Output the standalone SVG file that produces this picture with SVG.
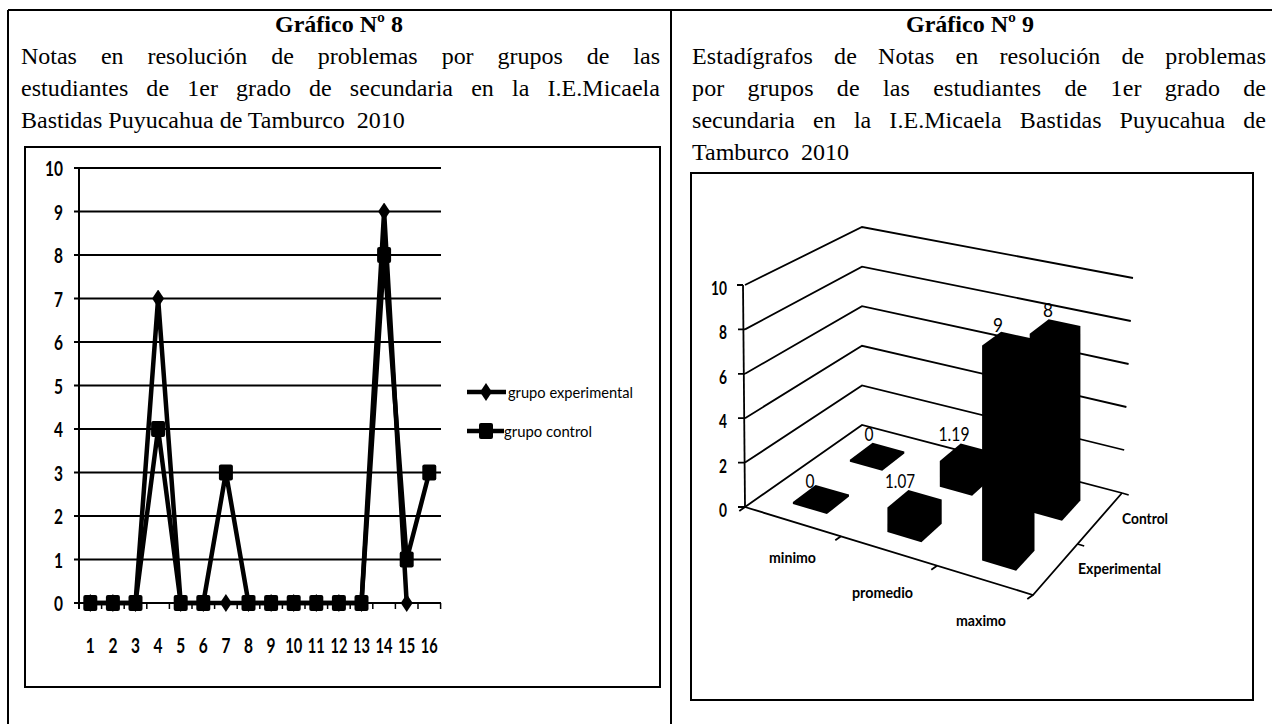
<svg xmlns="http://www.w3.org/2000/svg" width="1272" height="724" viewBox="0 0 1272 724">
<style>
.frame{fill:none;stroke:#000;stroke-width:2}
.title{font-family:"Liberation Serif",serif;font-size:24px;font-weight:bold;fill:#000}
.body{font-family:"Liberation Serif",serif;font-size:24px;fill:#000}
.grid{fill:none;stroke:#000;stroke-width:2}
.ser{fill:none;stroke:#000;stroke-width:4.5;stroke-linejoin:miter}
.ylab{font-family:Lato,"Liberation Sans",sans-serif;font-size:21px;font-weight:bold;text-anchor:end;fill:#000}
.xlab{font-family:Lato,"Liberation Sans",sans-serif;font-size:21px;font-weight:bold;text-anchor:middle;fill:#000}
.leg{font-family:Lato,"Liberation Sans",sans-serif;font-size:16px;fill:#000}
.g3{fill:none;stroke:#000;stroke-width:1.8}
.bar{fill:#000}
.rlab{font-family:Lato,"Liberation Sans",sans-serif;font-size:19px;font-weight:bold;text-anchor:end;fill:#000}
.clab{font-family:Lato,"Liberation Sans",sans-serif;font-size:16px;font-weight:bold;fill:#000}
.vlab{font-family:Lato,"Liberation Sans",sans-serif;font-size:20px;text-anchor:middle;fill:#000}
</style>
<defs>
<marker id="dia" markerUnits="userSpaceOnUse" markerWidth="14" markerHeight="18" refX="7" refY="9" viewBox="0 0 14 18"><polygon points="7,0 13,9 7,18 1,9" fill="#000"/></marker>
<marker id="sq" markerUnits="userSpaceOnUse" markerWidth="16" markerHeight="18" refX="8" refY="9" viewBox="0 0 16 18"><rect x="1" y="1" width="14" height="16" rx="2" fill="#000"/></marker>
</defs>
<rect width="1272" height="724" fill="#fff"/>
<g id="page-frame" class="frame">
<line x1="8" y1="10" x2="1272" y2="10"/>
<line x1="8" y1="10" x2="8" y2="724"/>
<line x1="671" y1="10" x2="671" y2="724"/>
</g>
<g id="left-heading">
<text class="title" x="339" y="32" text-anchor="middle">Gráfico Nº 8</text>
<text class="body" x="21" y="64" textLength="639" lengthAdjust="spacing" style="word-spacing:18px">Notas en resolución de problemas por grupos de las</text>
<text class="body" x="21" y="96" textLength="639" lengthAdjust="spacing" style="word-spacing:12px">estudiantes de 1er grado de secundaria en la I.E.Micaela</text>
<text class="body" x="21" y="128" xml:space="preserve">Bastidas Puyucahua de Tamburco  2010</text>
</g>
<g id="right-heading">
<text class="title" x="970" y="32" text-anchor="middle">Gráfico Nº 9</text>
<text class="body" x="692" y="64" textLength="574" lengthAdjust="spacing" style="word-spacing:15px">Estadígrafos de Notas en resolución de problemas</text>
<text class="body" x="692" y="96" textLength="574" lengthAdjust="spacing" style="word-spacing:17px">por grupos de las estudiantes de 1er grado de</text>
<text class="body" x="692" y="128" textLength="574" lengthAdjust="spacing" style="word-spacing:12px">secundaria en la I.E.Micaela Bastidas Puyucahua de</text>
<text class="body" x="692" y="160" xml:space="preserve">Tamburco  2010</text>
</g>
<g id="chart8">
<rect class="frame" x="25" y="147" width="635" height="540"/>
<g class="grid">
<line x1="74" y1="168" x2="441" y2="168"/>
<line x1="74" y1="211.5" x2="441" y2="211.5"/>
<line x1="74" y1="255" x2="441" y2="255"/>
<line x1="74" y1="298.5" x2="441" y2="298.5"/>
<line x1="74" y1="342" x2="441" y2="342"/>
<line x1="74" y1="385.5" x2="441" y2="385.5"/>
<line x1="74" y1="429" x2="441" y2="429"/>
<line x1="74" y1="472.5" x2="441" y2="472.5"/>
<line x1="74" y1="516" x2="441" y2="516"/>
<line x1="74" y1="559.5" x2="441" y2="559.5"/>
<line x1="74" y1="603" x2="441" y2="603"/>
<line x1="79" y1="168" x2="79" y2="609"/>
<path d="M101.6 603v6M124.2 603v6M146.8 603v6M169.4 603v6M192 603v6M214.6 603v6M237.2 603v6M259.8 603v6M282.4 603v6M305 603v6M327.6 603v6M350.2 603v6M372.8 603v6M395.4 603v6M418 603v6M440.6 603v6" stroke-width="1.5"/>
</g>
<g id="y-labels">
<text class="ylab" x="63" y="176" textLength="18" lengthAdjust="spacingAndGlyphs">10</text>
<text class="ylab" x="63" y="219.5" textLength="9" lengthAdjust="spacingAndGlyphs">9</text>
<text class="ylab" x="63" y="263" textLength="9" lengthAdjust="spacingAndGlyphs">8</text>
<text class="ylab" x="63" y="306.5" textLength="9" lengthAdjust="spacingAndGlyphs">7</text>
<text class="ylab" x="63" y="350" textLength="9" lengthAdjust="spacingAndGlyphs">6</text>
<text class="ylab" x="63" y="393.5" textLength="9" lengthAdjust="spacingAndGlyphs">5</text>
<text class="ylab" x="63" y="437" textLength="9" lengthAdjust="spacingAndGlyphs">4</text>
<text class="ylab" x="63" y="480.5" textLength="9" lengthAdjust="spacingAndGlyphs">3</text>
<text class="ylab" x="63" y="524" textLength="9" lengthAdjust="spacingAndGlyphs">2</text>
<text class="ylab" x="63" y="567.5" textLength="9" lengthAdjust="spacingAndGlyphs">1</text>
<text class="ylab" x="63" y="611" textLength="9" lengthAdjust="spacingAndGlyphs">0</text>
</g>
<g id="x-labels">
<text class="xlab" x="90.3" y="653" textLength="9" lengthAdjust="spacingAndGlyphs">1</text>
<text class="xlab" x="112.9" y="653" textLength="9" lengthAdjust="spacingAndGlyphs">2</text>
<text class="xlab" x="135.5" y="653" textLength="9" lengthAdjust="spacingAndGlyphs">3</text>
<text class="xlab" x="158.1" y="653" textLength="9" lengthAdjust="spacingAndGlyphs">4</text>
<text class="xlab" x="180.7" y="653" textLength="9" lengthAdjust="spacingAndGlyphs">5</text>
<text class="xlab" x="203.3" y="653" textLength="9" lengthAdjust="spacingAndGlyphs">6</text>
<text class="xlab" x="225.9" y="653" textLength="9" lengthAdjust="spacingAndGlyphs">7</text>
<text class="xlab" x="248.5" y="653" textLength="9" lengthAdjust="spacingAndGlyphs">8</text>
<text class="xlab" x="271.1" y="653" textLength="9" lengthAdjust="spacingAndGlyphs">9</text>
<text class="xlab" x="293.7" y="653" textLength="17" lengthAdjust="spacingAndGlyphs">10</text>
<text class="xlab" x="316.3" y="653" textLength="17" lengthAdjust="spacingAndGlyphs">11</text>
<text class="xlab" x="338.9" y="653" textLength="17" lengthAdjust="spacingAndGlyphs">12</text>
<text class="xlab" x="361.5" y="653" textLength="17" lengthAdjust="spacingAndGlyphs">13</text>
<text class="xlab" x="384.1" y="653" textLength="17" lengthAdjust="spacingAndGlyphs">14</text>
<text class="xlab" x="406.7" y="653" textLength="17" lengthAdjust="spacingAndGlyphs">15</text>
<text class="xlab" x="429.3" y="653" textLength="17" lengthAdjust="spacingAndGlyphs">16</text>
</g>
<polyline id="serie-experimental" class="ser" marker-start="url(#dia)" marker-mid="url(#dia)" marker-end="url(#dia)" points="90.3,603 112.9,603 135.5,603 158.1,298.5 180.7,603 203.3,603 225.9,603 248.5,603 271.1,603 293.7,603 316.3,603 338.9,603 361.5,603 384.1,211.5 406.7,603"/>
<polyline id="serie-control" class="ser" marker-start="url(#sq)" marker-mid="url(#sq)" marker-end="url(#sq)" points="90.3,603 112.9,603 135.5,603 158.1,429 180.7,603 203.3,603 225.9,472.5 248.5,603 271.1,603 293.7,603 316.3,603 338.9,603 361.5,603 384.1,255 406.7,559.5 429.3,472.5"/>
<g id="legend8">
<polyline class="ser" marker-mid="url(#dia)" points="467,392 486,392 506,392"/>
<text class="leg" x="508" y="398" textLength="125" lengthAdjust="spacingAndGlyphs">grupo experimental</text>
<polyline class="ser" marker-mid="url(#sq)" points="467,431 486,431 504,431"/>
<text class="leg" x="504" y="437" textLength="88" lengthAdjust="spacingAndGlyphs">grupo control</text>
</g>
</g>
<g id="chart9">
<rect class="frame" x="691" y="173" width="562" height="527"/>
<g id="walls" class="g3">
<polyline points="745,507 862,425 1122,493"/>
<polyline points="745,462.6 862,385.4 1124.2,450"/>
<polyline points="745,418.2 862,345.8 1126.4,407"/>
<polyline points="745,373.8 862,306.2 1128.6,364"/>
<polyline points="745,329.4 862,266.6 1130.8,321"/>
<polyline points="745,285 862,227 1133,278"/>
<line x1="743" y1="285" x2="745" y2="507"/>
<path d="M737 285h6M738 329.4h7M738 373.8h7M738 418.2h7M738 462.6h7M738 507h7"/>
<polyline points="745,507 1033,595 1122,493"/>
<path d="M745 507l-5.7 4M841 536.3l-5.7 4M937 565.7l-5.7 4M1033 595l-5.7 4M1077.5 544l6.7 2M1122 493l6.7 2"/>
</g>
<g id="axis-labels9">
<text class="rlab" x="727" y="295" textLength="16" lengthAdjust="spacingAndGlyphs">10</text>
<text class="rlab" x="727" y="339.4" textLength="8" lengthAdjust="spacingAndGlyphs">8</text>
<text class="rlab" x="727" y="383.8" textLength="8" lengthAdjust="spacingAndGlyphs">6</text>
<text class="rlab" x="727" y="428.2" textLength="8" lengthAdjust="spacingAndGlyphs">4</text>
<text class="rlab" x="727" y="472.6" textLength="8" lengthAdjust="spacingAndGlyphs">2</text>
<text class="rlab" x="727" y="517" textLength="8" lengthAdjust="spacingAndGlyphs">0</text>
<text class="clab" x="769" y="563" textLength="47" lengthAdjust="spacingAndGlyphs">minimo</text>
<text class="clab" x="852" y="598" textLength="61" lengthAdjust="spacingAndGlyphs">promedio</text>
<text class="clab" x="956" y="626" textLength="50" lengthAdjust="spacingAndGlyphs">maximo</text>
<text class="clab" x="1122" y="524" textLength="46" lengthAdjust="spacingAndGlyphs">Control</text>
<text class="clab" x="1078" y="574" textLength="83" lengthAdjust="spacingAndGlyphs">Experimental</text>
</g>
<g id="bars">
<polygon id="bar-control-minimo" class="bar" points="849.9,459.7 872.6,442.8 904.3,451.4 904.3,453.4 882.2,470.7 849.9,461.7"/>
<polygon id="bar-control-promedio" class="bar" points="939.8,461 960.7,443.6 992.5,452 992.5,477.2 972.1,495.7 939.8,486.7"/>
<polygon id="bar-control-maximo" class="bar" points="1029.7,333.7 1048.7,319.3 1080.4,326 1080.4,500.6 1062,520.7 1029.7,511.7"/>
<polygon id="bar-exp-minimo" class="bar" points="792.9,501.9 815.6,485 849,494.6 849,496.6 826.9,514.1 792.9,503.9"/>
<polygon id="bar-exp-promedio" class="bar" points="887.4,507.4 908.4,489.9 941.7,499.4 941.7,523.7 921.4,542.3 887.4,532"/>
<polygon id="bar-exp-maximo" class="bar" points="982.1,345.5 1001.1,331.8 1034.5,339.1 1034.5,550.8 1016.1,570.7 982.1,560.4"/>
</g>
<g id="value-labels">
<text class="vlab" x="810" y="488" textLength="9" lengthAdjust="spacingAndGlyphs">0</text>
<text class="vlab" x="869" y="441" textLength="9" lengthAdjust="spacingAndGlyphs">0</text>
<text class="vlab" x="900" y="488" textLength="30" lengthAdjust="spacingAndGlyphs">1.07</text>
<text class="vlab" x="954" y="441" textLength="31" lengthAdjust="spacingAndGlyphs">1.19</text>
<text class="vlab" x="998" y="332" textLength="10" lengthAdjust="spacingAndGlyphs">9</text>
<text class="vlab" x="1048" y="317" textLength="10" lengthAdjust="spacingAndGlyphs">8</text>
</g>
</g>
</svg>
